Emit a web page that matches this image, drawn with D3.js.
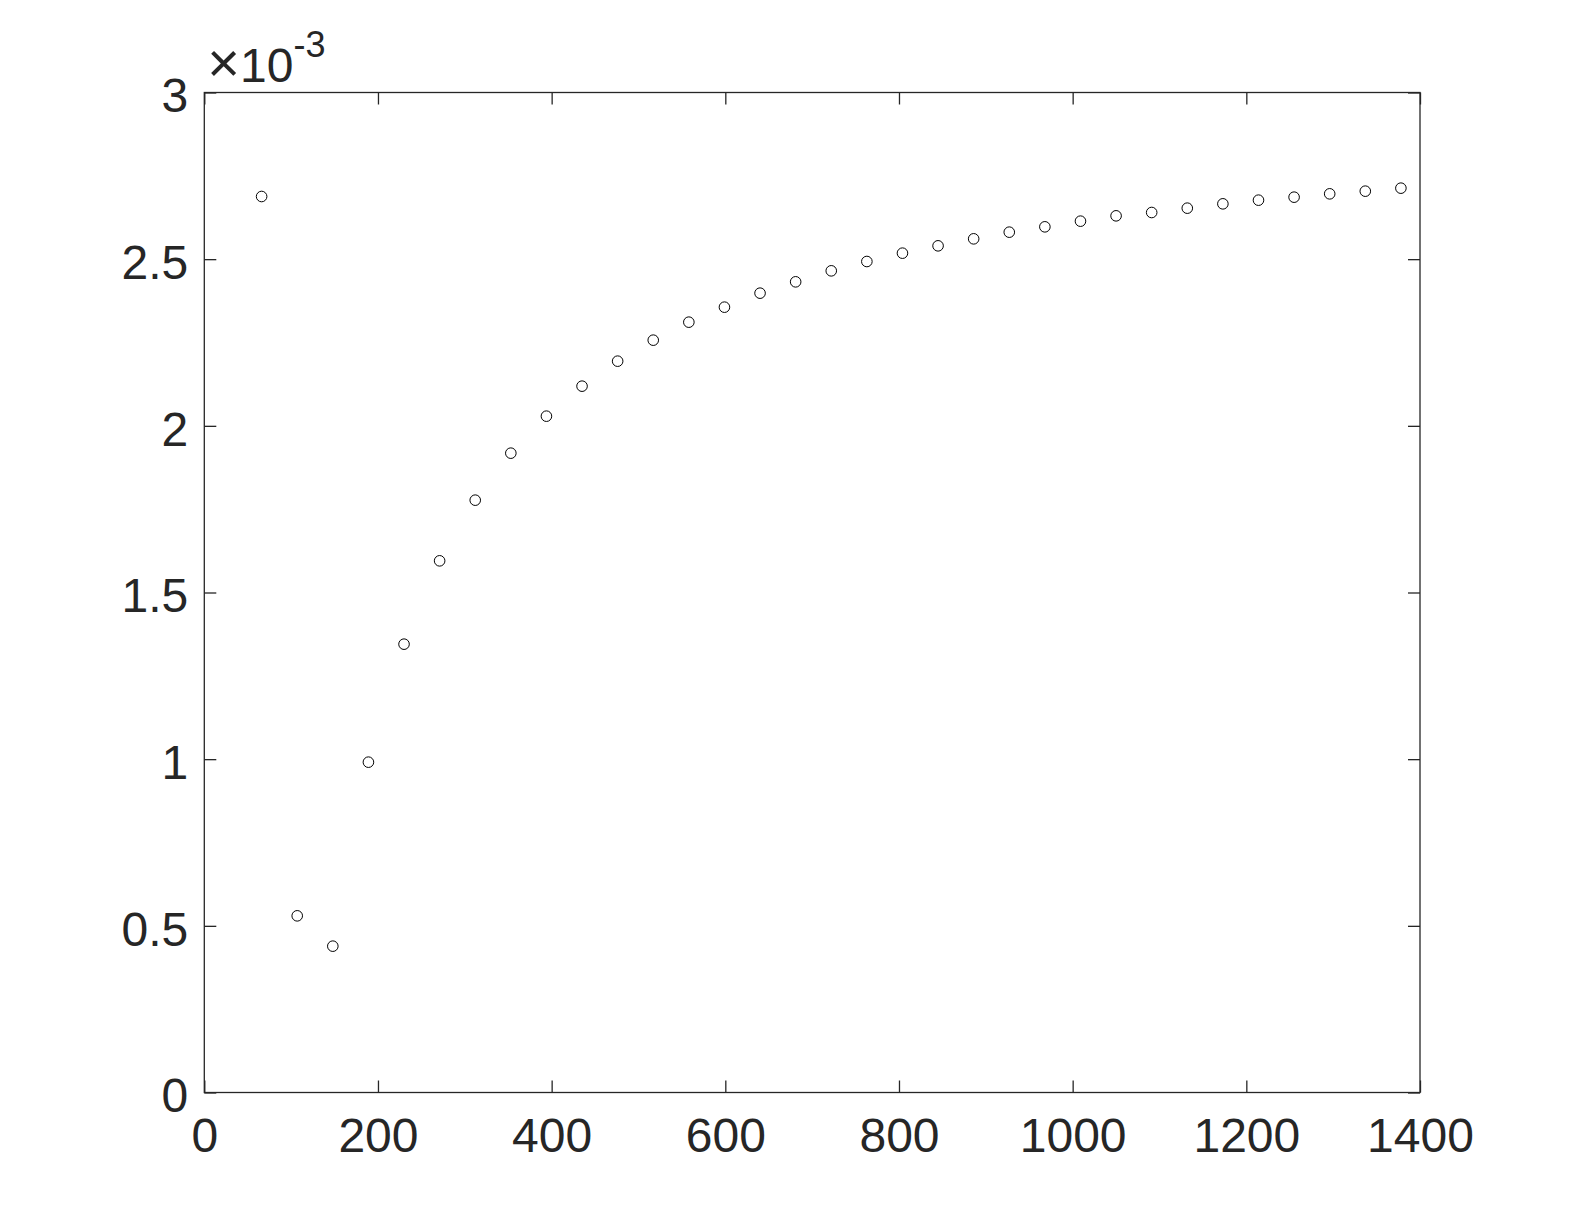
<!DOCTYPE html>
<html>
<head>
<meta charset="utf-8">
<script src="https://cdn.jsdelivr.net/npm/d3@7"></script>
<style>
  body { margin: 0; background: #fff; }
  text { font-family: "Liberation Sans", Arial, Helvetica, sans-serif; fill: #262626; }
</style>
</head>
<body>
<div id="chart"></div>
<script>
// data (y in units of 1e-3)
var xs = [66, 107, 148, 189, 230, 271, 312, 353, 394, 435, 476, 517, 558, 599, 640, 681, 722,
          763, 804, 845, 886, 927, 968, 1009, 1050, 1091, 1132, 1173, 1214, 1255, 1296, 1337, 1378]
var ys = [2.688, 0.530, 0.439, 0.991, 1.345, 1.595, 1.777, 1.918, 2.029, 2.119, 2.194, 2.257,
          2.311, 2.356, 2.398, 2.432, 2.465, 2.493, 2.518, 2.540, 2.561, 2.581, 2.597, 2.614,
          2.630, 2.640, 2.653, 2.666, 2.677, 2.686, 2.696, 2.704, 2.713]
var xTicks = [0, 200, 400, 600, 800, 1000, 1200, 1400]
var yTicks = [0, 0.5, 1, 1.5, 2, 2.5, 3]
var yTickLabels = ["0", "0.5", "1", "1.5", "2", "2.5", "3"]

// set the dimensions and margins of the graph
var width = 1570
var height = 1228
var margin = { top: 92.5, right: 150, bottom: 135.5, left: 204.3 }
var w = width - margin.left - margin.right
var h = height - margin.top - margin.bottom

var svg = d3.select("#chart")
    .append("svg")
    .attr("width", width)
    .attr("height", height)

var g = svg.append("g")
    .attr("transform", "translate(" + margin.left + "," + margin.top + ")")

var x = d3.scaleLinear().domain([0, 1400]).range([0, w])
var y = d3.scaleLinear().domain([0, 3]).range([h, 0])

var axisColor = "#262626"
var tickLen = 12
var fontSize = 48

// ticks on all four sides, pointing inwards
function styleAxis(sel) {
    sel.select(".domain").remove()
    sel.selectAll("line").attr("stroke", axisColor).attr("stroke-width", 1.3)
    sel.selectAll("text").style("font-size", fontSize + "px").attr("fill", axisColor)
}

g.append("g")
    .attr("transform", "translate(0," + h + ")")
    .call(d3.axisBottom(x).tickValues(xTicks).tickSizeInner(-tickLen).tickSizeOuter(0).tickPadding(25)
        .tickFormat(d3.format("d")))
    .call(styleAxis)
    .selectAll("text").attr("dy", "0.71em")

g.append("g")
    .call(d3.axisTop(x).tickValues(xTicks).tickSizeInner(-tickLen).tickSizeOuter(0).tickFormat(""))
    .call(styleAxis)

g.append("g")
    .call(d3.axisLeft(y).tickValues(yTicks).tickSizeInner(-tickLen).tickSizeOuter(0).tickPadding(16)
        .tickFormat(function (d, i) { return yTickLabels[i] }))
    .call(styleAxis)
    .selectAll("text").attr("dy", "0.40em")

g.append("g")
    .attr("transform", "translate(" + w + ",0)")
    .call(d3.axisRight(y).tickValues(yTicks).tickSizeInner(-tickLen).tickSizeOuter(0).tickFormat(""))
    .call(styleAxis)

// axes box
g.append("rect")
    .attr("width", w)
    .attr("height", h)
    .attr("fill", "none")
    .attr("stroke", axisColor)
    .attr("stroke-width", 1.3)

// exponent label
var expo = g.append("text")
    .attr("x", 3)
    .attr("y", -11)
    .style("font-size", fontSize + "px")
expo.append("tspan").style("font-size", "56px").style("font-weight", 300).text("\u00d7")
expo.append("tspan").text("10")
expo.append("tspan")
    .attr("dy", -25)
    .style("font-size", "36px")
    .text("-3")

// the points
g.selectAll("circle.pt")
    .data(xs)
    .enter()
    .append("circle")
    .attr("class", "pt")
    .attr("cx", function (d) { return x(d) })
    .attr("cy", function (d, i) { return y(ys[i]) })
    .attr("r", 5.3)
    .attr("fill", "none")
    .attr("stroke", "black")
    .attr("stroke-width", 1)
</script>
</body>
</html>
